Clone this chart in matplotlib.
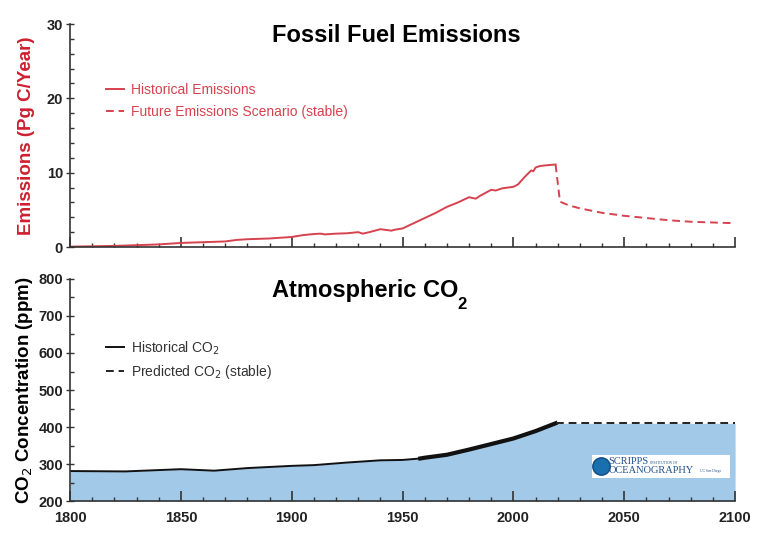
import matplotlib.pyplot as plt
from matplotlib.ticker import MultipleLocator
from matplotlib.patches import Rectangle

plt.rcParams['font.family'] = ['Liberation Sans', 'DejaVu Sans']

# fossil fuel emissions (Pg C / year)
emis_years = [1800, 1810, 1820, 1830, 1840, 1850, 1860, 1870, 1875, 1880, 1890,
              1900, 1905, 1910, 1913, 1915, 1920, 1925, 1930, 1932, 1935, 1940,
              1945, 1946, 1950, 1955, 1960, 1965, 1970, 1975, 1980, 1983, 1985,
              1990, 1992, 1995, 2000, 2002, 2005, 2008, 2009, 2010, 2012, 2015, 2019]
emis_vals = [0.05, 0.1, 0.15, 0.25, 0.35, 0.55, 0.65, 0.75, 0.95, 1.05, 1.15,
             1.35, 1.6, 1.75, 1.8, 1.7, 1.8, 1.85, 2.0, 1.8, 2.0, 2.4,
             2.2, 2.3, 2.5, 3.2, 3.9, 4.6, 5.4, 6.0, 6.7, 6.5, 6.9,
             7.7, 7.6, 7.9, 8.1, 8.4, 9.4, 10.3, 10.2, 10.7, 10.9, 11.0, 11.1]
future_years = [2019, 2021, 2025, 2030, 2040, 2050, 2060, 2070, 2080, 2090, 2100]
future_vals = [11.1, 6.1, 5.6, 5.2, 4.6, 4.2, 3.9, 3.6, 3.4, 3.3, 3.2]

# atmospheric CO2 (ppm)
co2_years = [1800, 1825, 1850, 1865, 1880, 1900, 1910, 1925, 1940, 1950, 1958,
             1960, 1970, 1980, 1990, 2000, 2010, 2019]
co2_vals = [281, 280, 286, 282, 289, 295, 297, 304, 310, 311, 315,
            317, 325, 339, 354, 369, 389, 410]
pred_years = [2019, 2100]
pred_vals = [410, 410]

red = '#d6424e'
fill_blue = '#a3c9e8'
dark = '#333333'

fig = plt.figure(figsize=(7.73, 5.53), dpi=100)
ax1 = fig.add_axes([0.0906, 0.5533, 0.8604, 0.4033])
ax2 = fig.add_axes([0.0906, 0.094, 0.8604, 0.4015])

for ax in (ax1, ax2):
    ax.set_xlim(1800, 2100)
    for s in ('top', 'right'):
        ax.spines[s].set_visible(False)
    for s in ('left', 'bottom'):
        ax.spines[s].set_color(dark)
        ax.spines[s].set_linewidth(1.2)
    ax.xaxis.set_major_locator(MultipleLocator(50))
    ax.xaxis.set_minor_locator(MultipleLocator(10))
    ax.tick_params(axis='x', which='major', direction='in', length=7, width=1.2,
                   color=dark, pad=7)
    ax.tick_params(axis='x', which='minor', direction='in', length=3, width=1, color=dark)
    ax.tick_params(axis='y', which='major', direction='inout', length=6, width=1,
                   color=dark, pad=2)
    ax.tick_params(axis='y', which='minor', direction='in', length=3, width=1, color=dark)
    ax.tick_params(labelsize=10.5)
    for lab in ax.get_xticklabels() + ax.get_yticklabels():
        lab.set_fontweight('bold')
        lab.set_color('#222222')

# top panel
ax1.set_ylim(0, 30)
ax1.yaxis.set_major_locator(MultipleLocator(10))
ax1.yaxis.set_minor_locator(MultipleLocator(2))
ax1.tick_params(axis='x', labelbottom=False)
ax1.plot(emis_years, emis_vals, color=red, lw=1.4, label='Historical Emissions')
ax1.plot(future_years, future_vals, color=red, lw=1.4, ls=(0, (4, 2.5)),
         label='Future Emissions Scenario (stable)')
ax1.set_ylabel('Emissions (Pg C/Year)', color='#cc2030', fontsize=13.5, fontweight='bold')
ax1.yaxis.set_label_coords(-0.053, 0.5)
ax1.text(1947, 28.5, 'Fossil Fuel Emissions', ha='center', va='center',
         fontsize=17, fontweight='bold')
ax1.legend(loc='upper left', bbox_to_anchor=(0.035, 0.79), frameon=False,
           fontsize=10, handlelength=1.3, handletextpad=0.5, labelspacing=0.55,
           labelcolor=red)

# bottom panel
ax2.set_ylim(200, 800)
ax2.yaxis.set_major_locator(MultipleLocator(100))
ax2.yaxis.set_minor_locator(MultipleLocator(50))
ax2.fill_between(co2_years + pred_years[1:], co2_vals + pred_vals[1:], 200,
                 color=fill_blue, lw=0)
ax2.plot(co2_years, co2_vals, color='#111111', lw=1.4, label='Historical CO$_2$')
ax2.plot(co2_years[10:], co2_vals[10:], color='#111111', lw=3)
ax2.plot(pred_years, pred_vals, color='#222222', lw=1.4, ls=(0, (4, 2.5)),
         label='Predicted CO$_2$ (stable)')
ax2.set_ylabel('CO$_2$ Concentration (ppm)', fontsize=13.5, fontweight='bold')
ax2.yaxis.set_label_coords(-0.053, 0.5)
ax2.text(1891, 769, 'Atmospheric CO', ha='left', va='center',
         fontsize=17, fontweight='bold')
ax2.text(1974.6, 730, '2', ha='left', va='center', fontsize=12, fontweight='bold')
ax2.legend(loc='upper left', bbox_to_anchor=(0.035, 0.785), frameon=False,
           fontsize=10, handlelength=1.3, handletextpad=0.5, labelspacing=0.45,
           labelcolor=dark)

# Scripps logo box
ax2.add_patch(Rectangle((2035.5, 262), 62, 62, facecolor='white', edgecolor='none', zorder=3))
ax2.plot([2039.7], [294], 'o', ms=12.5, color='#1a6fae', mec='#0d4a80', zorder=4)
ax2.text(2042.8, 306, 'SCRIPPS', fontsize=7.5, family='Liberation Serif', color='#1f4f8a',
         va='center', zorder=4)
ax2.text(2061.5, 304, 'INSTITUTION OF', fontsize=2.6, family='Liberation Serif',
         color='#1f4f8a', va='center', zorder=4)
ax2.text(2042.8, 283, 'OCEANOGRAPHY', fontsize=7.5, family='Liberation Serif',
         color='#1f4f8a', va='center', zorder=4)
ax2.text(2084, 280, 'UC San Diego', fontsize=2.6, family='Liberation Serif',
         color='#1f4f8a', va='center', zorder=4)

fig.savefig('out.png', dpi=100)
